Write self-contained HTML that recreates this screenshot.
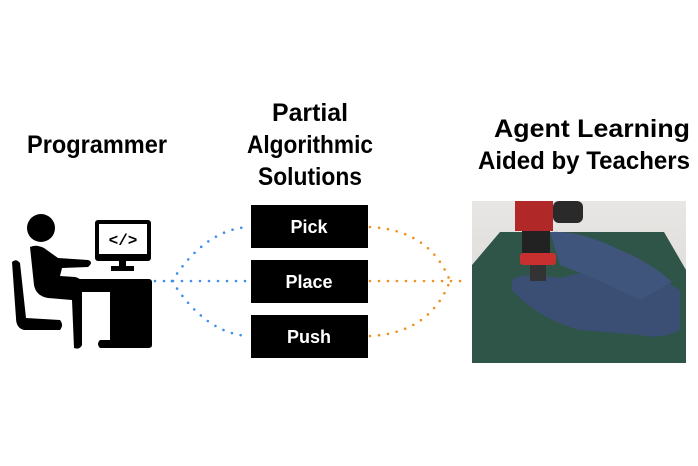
<!DOCTYPE html>
<html><head><style>html,body{margin:0;padding:0;background:#fff;width:698px;height:466px;overflow:hidden}</style></head>
<body>
<svg width="698" height="466" viewBox="0 0 698 466" xmlns="http://www.w3.org/2000/svg" font-family="Liberation Sans, sans-serif" font-weight="bold">
<rect width="698" height="466" fill="#fff"/>
<g font-size="25" fill="#000" text-anchor="start">
<text x="27" y="153" textLength="140" lengthAdjust="spacingAndGlyphs">Programmer</text>
<text x="272" y="121" textLength="76" lengthAdjust="spacingAndGlyphs">Partial</text>
<text x="247" y="153" textLength="126" lengthAdjust="spacingAndGlyphs">Algorithmic</text>
<text x="258" y="185" textLength="104" lengthAdjust="spacingAndGlyphs">Solutions</text>
<text x="494" y="137" textLength="196" lengthAdjust="spacingAndGlyphs">Agent Learning</text>
<text x="478" y="169" textLength="212" lengthAdjust="spacingAndGlyphs">Aided by Teachers</text>
</g>
<g fill="#000">
<circle cx="41" cy="228" r="14"/>
<path d="M30 247 Q36 244 44 248 L58 258 L88 260 Q94 262 88 267 L62 268 L60 276 L75 277 Q84 279 82 288 L82 345 Q80 350 74 348 L72 300 L48 298 Q36 296 34 285 Z"/>
<path d="M12 262 Q16 258 20 263 L26 318 L60 320 Q64 325 60 330 L24 330 Q16 328 16 318 Z"/>
<rect x="69" y="279" width="83" height="13" rx="3"/>
<path d="M100 286 H152 V345 Q152 348 148 348 H100 Q96 344 100 340 H110 V292 H100 Z"/>
<rect x="95" y="220" width="56" height="41" rx="3"/>
<rect x="99" y="224" width="48" height="30" fill="#fff"/>
<rect x="119" y="261" width="7" height="6"/>
<rect x="111" y="266" width="23" height="5"/>
</g>
<text x="123" y="245" font-size="16" text-anchor="middle" fill="#000" font-family="Liberation Mono, monospace">&lt;/&gt;</text>
<g fill="#000">
<rect x="251" y="205" width="117" height="43"/>
<rect x="251" y="260" width="117" height="43"/>
<rect x="251" y="315" width="117" height="43"/>
</g>
<g fill="#fff" font-size="18" text-anchor="middle">
<text x="309" y="233">Pick</text>
<text x="309" y="288">Place</text>
<text x="309" y="343">Push</text>
</g>
<g fill="none" stroke="#3d8fef" stroke-width="2.6" stroke-linecap="round" stroke-dasharray="0 9">
<path d="M155 281 H248"/>
<path d="M172 281 Q205 230 248 227"/>
<path d="M172 281 Q205 333 248 336"/>
</g>
<g fill="none" stroke="#f0901e" stroke-width="2.6" stroke-linecap="round" stroke-dasharray="0 9">
<path d="M370 281 H468"/>
<path d="M370 227 Q430 230 450 281"/>
<path d="M370 336 Q430 333 450 281"/>
</g>
<defs>
<linearGradient id="bg" x1="0" y1="0" x2="0" y2="1"><stop offset="0" stop-color="#e8e6e4"/><stop offset="1" stop-color="#d8d6d2"/></linearGradient>
</defs>
<rect x="472" y="201" width="214" height="162" fill="url(#bg)"/>
<path d="M472 265 L500 232 L664 232 L686 270 L686 363 L472 363 Z" fill="#2f5448"/>
<path d="M512 280 Q520 272 560 278 L600 268 Q640 265 680 290 L680 330 Q660 340 640 335 L580 330 Q540 320 512 290 Z" fill="#3a4f73"/>
<path d="M550 232 Q580 230 620 250 Q650 262 672 282 L640 300 Q600 280 560 265 Z" fill="#3f557c"/>
<rect x="515" y="201" width="38" height="30" fill="#b02828"/>
<rect x="553" y="201" width="30" height="22" fill="#2a2a2a" rx="6"/>
<rect x="522" y="231" width="28" height="24" fill="#222"/>
<rect x="520" y="253" width="36" height="12" fill="#c83030" rx="3"/>
<rect x="530" y="265" width="16" height="16" fill="#333"/>
</svg>
</body></html>
